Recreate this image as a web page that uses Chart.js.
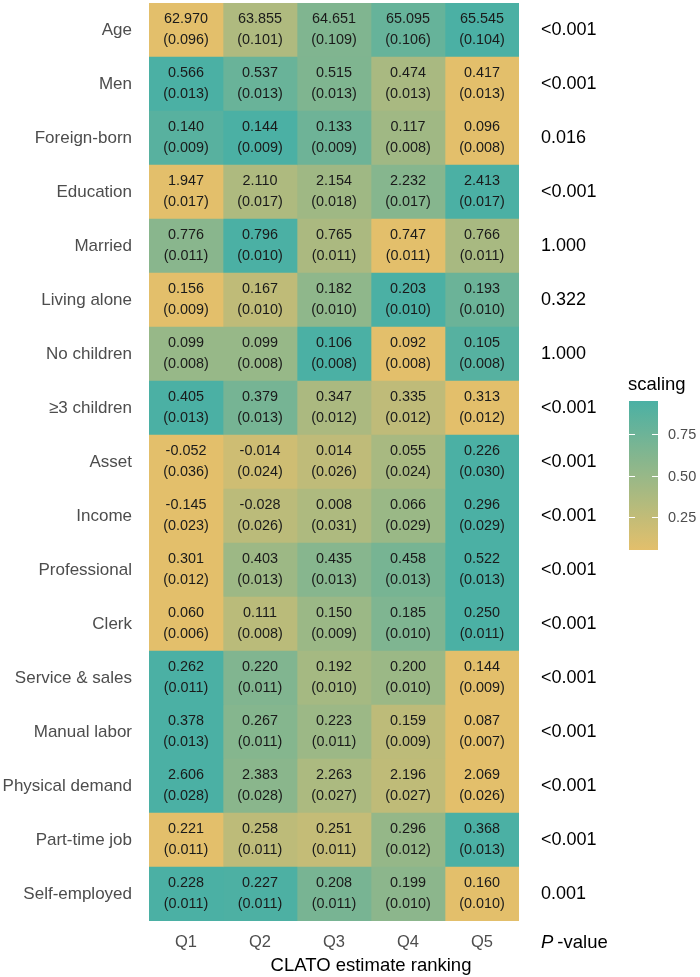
<!DOCTYPE html>
<html>
<head>
<meta charset="utf-8">
<script src="https://cdn.jsdelivr.net/npm/chart.js@4/dist/chart.umd.min.js"></script>
<style>
  html, body { margin: 0; background: #fff; }
  #wrap { width: 700px; height: 977px; }
</style>
</head>
<body>
<div id="wrap"><canvas id="heat"></canvas></div>
<script>
/* data -------------------------------------------------------------- */
const rows = ['Age', 'Men', 'Foreign-born', 'Education', 'Married', 'Living alone',
  'No children', '\u22653 children', 'Asset', 'Income', 'Professional', 'Clerk',
  'Service & sales', 'Manual labor', 'Physical demand', 'Part-time job', 'Self-employed'];
const quintiles = ['Q1', 'Q2', 'Q3', 'Q4', 'Q5'];

const meanQ1 = [62.970, 0.566, 0.140, 1.947, 0.776, 0.156, 0.099, 0.405, -0.052, -0.145, 0.301, 0.060, 0.262, 0.378, 2.606, 0.221, 0.228];
const meanQ2 = [63.855, 0.537, 0.144, 2.110, 0.796, 0.167, 0.099, 0.379, -0.014, -0.028, 0.403, 0.111, 0.220, 0.267, 2.383, 0.258, 0.227];
const meanQ3 = [64.651, 0.515, 0.133, 2.154, 0.765, 0.182, 0.106, 0.347, 0.014, 0.008, 0.435, 0.150, 0.192, 0.223, 2.263, 0.251, 0.208];
const meanQ4 = [65.095, 0.474, 0.117, 2.232, 0.747, 0.203, 0.092, 0.335, 0.055, 0.066, 0.458, 0.185, 0.200, 0.159, 2.196, 0.296, 0.199];
const meanQ5 = [65.545, 0.417, 0.096, 2.413, 0.766, 0.193, 0.105, 0.313, 0.226, 0.296, 0.522, 0.250, 0.144, 0.087, 2.069, 0.368, 0.160];

const seQ1 = [0.096, 0.013, 0.009, 0.017, 0.011, 0.009, 0.008, 0.013, 0.036, 0.023, 0.012, 0.006, 0.011, 0.013, 0.028, 0.011, 0.011];
const seQ2 = [0.101, 0.013, 0.009, 0.017, 0.010, 0.010, 0.008, 0.013, 0.024, 0.026, 0.013, 0.008, 0.011, 0.011, 0.028, 0.011, 0.011];
const seQ3 = [0.109, 0.013, 0.009, 0.018, 0.011, 0.010, 0.008, 0.012, 0.026, 0.031, 0.013, 0.009, 0.010, 0.011, 0.027, 0.011, 0.011];
const seQ4 = [0.106, 0.013, 0.008, 0.017, 0.011, 0.010, 0.008, 0.012, 0.024, 0.029, 0.013, 0.010, 0.010, 0.009, 0.027, 0.012, 0.010];
const seQ5 = [0.104, 0.013, 0.008, 0.017, 0.011, 0.010, 0.008, 0.012, 0.030, 0.029, 0.013, 0.011, 0.009, 0.007, 0.026, 0.013, 0.010];

const pValues = ['<0.001', '<0.001', '0.016', '<0.001', '1.000', '0.322', '1.000', '<0.001',
  '<0.001', '<0.001', '<0.001', '<0.001', '<0.001', '<0.001', '<0.001', '<0.001', '0.001'];

const legendTicks = [0.25, 0.50, 0.75];
const scaleLow  = 0.05;    // colour bar range
const scaleHigh = 0.95;

/* helpers ----------------------------------------------------------- */
const means = [meanQ1, meanQ2, meanQ3, meanQ4, meanQ5];
const ses   = [seQ1, seQ2, seQ3, seQ4, seQ5];

const LOW  = [227, 191, 107];   // yellow
const HIGH = [75, 176, 164];    // teal
const mix  = t => 'rgb(' + LOW.map((c, i) => Math.round(c + (HIGH[i] - c) * t)).join(',') + ')';

// row-wise min-max scaling -> 0..1 along the colour bar
function rowShare(r, k) {
  const vals = means.map(m => m[r]);
  const lo = Math.min(...vals), hi = Math.max(...vals);
  return hi === lo ? 0.5 : (means[k][r] - lo) / (hi - lo);
}

const FONT = "'Liberation Sans', Arial, sans-serif";
const GREY = '#4D4D4D';

/* cell text + legend ------------------------------------------------ */
const cellText = {
  id: 'cellText',
  afterDatasetsDraw(chart) {
    const ctx = chart.ctx;
    ctx.save();
    ctx.fillStyle = '#1A1A1A';
    ctx.font = '14.4px ' + FONT;
    ctx.textAlign = 'center';
    ctx.textBaseline = 'middle';
    chart.data.datasets.forEach((ds, k) => {
      chart.getDatasetMeta(k).data.forEach((bar, r) => {
        const cx = (bar.x + bar.base) / 2;
        ctx.fillText(means[k][r].toFixed(3), cx, bar.y - 10.5);
        ctx.fillText('(' + ses[k][r].toFixed(3) + ')', cx, bar.y + 10.5);
      });
    });
    ctx.restore();
  },
  afterDraw(chart) {
    const ctx = chart.ctx;
    const a = chart.chartArea;
    const cellW = (a.right - a.left) / quintiles.length;
    ctx.save();
    ctx.fillStyle = '#000';
    ctx.textBaseline = 'middle';

    /* axis title, centred over the tiles plus the p column */
    ctx.textAlign = 'center';
    ctx.font = '18.5px ' + FONT;
    ctx.fillText('CLATO estimate ranking', a.left + cellW * 3, a.bottom + 45);

    /* "P -value" under the p column */
    const px = a.right + 22, py = a.bottom + 22;
    ctx.textAlign = 'left';
    ctx.font = 'italic 18.5px ' + FONT;
    ctx.fillText('P', px, py);
    const pw = ctx.measureText('P').width;
    ctx.font = '18.5px ' + FONT;
    ctx.fillText('-value', px + pw + 4, py);

    /* colour bar legend */
    const bx = 629, bw = 29, by = 401, bh = 149;
    ctx.fillText('scaling', bx - 1, by - 16);
    const g = ctx.createLinearGradient(0, by + bh, 0, by);
    for (let i = 0; i <= 10; i++) g.addColorStop(i / 10, mix(i / 10));
    ctx.fillStyle = g;
    ctx.fillRect(bx, by, bw, bh);

    ctx.strokeStyle = '#fff';
    ctx.lineWidth = 1;
    ctx.font = '14.5px ' + FONT;
    legendTicks.forEach(t => {
      const y = Math.round(by + bh - (t - scaleLow) / (scaleHigh - scaleLow) * bh) + 0.5;
      ctx.beginPath();
      ctx.moveTo(bx, y); ctx.lineTo(bx + 6, y);
      ctx.moveTo(bx + bw - 6, y); ctx.lineTo(bx + bw, y);
      ctx.stroke();
      ctx.fillStyle = GREY;
      ctx.fillText(t.toFixed(2), bx + bw + 10, y);
    });
    ctx.restore();
  }
};

/* chart ------------------------------------------------------------- */
const datasets = quintiles.map((q, k) => ({
  label: q,
  data: rows.map(() => [k, k + 1]),
  backgroundColor: rows.map((_, r) => mix(rowShare(r, k))),
  borderWidth: 0,
  grouped: false,
  barPercentage: 1,
  categoryPercentage: 1
}));

// keep the plot box fixed: no extra margins from tick labels
const noPad = s => { s.paddingTop = 0; s.paddingBottom = 0; };

new Chart(document.getElementById('heat'), {
  type: 'bar',
  data: { labels: rows, datasets },
  options: {
    indexAxis: 'y',
    responsive: true,
    maintainAspectRatio: false,
    animation: false,
    layout: { padding: { top: 3, left: 0, right: 0, bottom: 0 } },
    plugins: { legend: { display: false }, tooltip: { enabled: false } },
    scales: {
      x: {
        type: 'linear', min: 0, max: 5,
        afterBuildTicks: s => { s.ticks = quintiles.map((_, i) => ({ value: i + 0.5 })); },
        afterFit: s => { s.height = 56; s.paddingLeft = 0; s.paddingRight = 0; },
        grid: { display: false, drawTicks: false },
        border: { display: false },
        ticks: {
          padding: 12, color: GREY, font: { family: FONT, size: 16.5 },
          callback: v => quintiles[v - 0.5]
        }
      },
      y: {
        type: 'category',
        afterFit: s => { s.width = 149; noPad(s); },
        grid: { display: false, drawTicks: false },
        border: { display: false },
        ticks: { padding: 17, color: GREY, font: { family: FONT, size: 17 } }
      },
      y2: {
        type: 'category', position: 'right', labels: pValues,
        afterFit: s => { s.width = 181; noPad(s); },
        grid: { display: false, drawTicks: false },
        border: { display: false },
        ticks: { padding: 22, color: '#000', font: { family: FONT, size: 18 } }
      }
    }
  },
  plugins: [cellText]
});
</script>
</body>
</html>
